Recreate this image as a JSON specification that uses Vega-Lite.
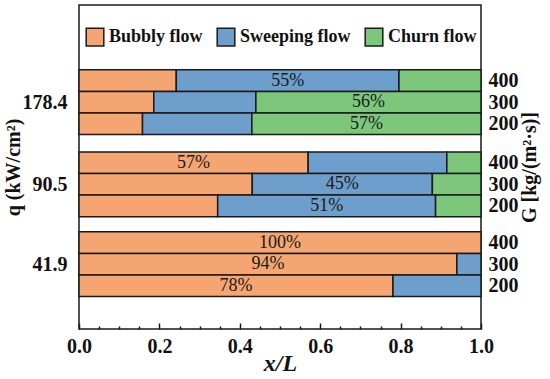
{
  "$schema": "https://vega.github.io/schema/vega-lite/v6.json",
  "width": 402,
  "height": 324,
  "autosize": {"type": "none"},
  "padding": {"top": 5, "left": 79, "right": 69, "bottom": 50},
  "background": "white",
  "config": {
    "view": {"stroke": "#1a1a1a", "strokeWidth": 1.5},
    "font": "Liberation Serif",
    "axis": {"domain": false, "grid": false, "labelFont": "Liberation Serif", "titleFont": "Liberation Serif", "labelColor": "#111", "titleColor": "#111", "tickColor": "#1a1a1a", "tickWidth": 1.5}
  },
  "data": {"values": [
    {"q": "178.4", "G": "400", "yc": 11.5, "regime": "Bubbly flow", "start": 0, "end": 0.242, "label": ""},
    {"q": "178.4", "G": "400", "yc": 11.5, "regime": "Sweeping flow", "start": 0.242, "end": 0.796, "label": "55%"},
    {"q": "178.4", "G": "400", "yc": 11.5, "regime": "Churn flow", "start": 0.796, "end": 1, "label": ""},
    {"q": "178.4", "G": "300", "yc": 10.5, "regime": "Bubbly flow", "start": 0, "end": 0.186, "label": ""},
    {"q": "178.4", "G": "300", "yc": 10.5, "regime": "Sweeping flow", "start": 0.186, "end": 0.44, "label": ""},
    {"q": "178.4", "G": "300", "yc": 10.5, "regime": "Churn flow", "start": 0.44, "end": 1, "label": "56%"},
    {"q": "178.4", "G": "200", "yc": 9.5, "regime": "Bubbly flow", "start": 0, "end": 0.158, "label": ""},
    {"q": "178.4", "G": "200", "yc": 9.5, "regime": "Sweeping flow", "start": 0.158, "end": 0.43, "label": ""},
    {"q": "178.4", "G": "200", "yc": 9.5, "regime": "Churn flow", "start": 0.43, "end": 1, "label": "57%"},
    {"q": "90.5", "G": "400", "yc": 7.7, "regime": "Bubbly flow", "start": 0, "end": 0.57, "label": "57%"},
    {"q": "90.5", "G": "400", "yc": 7.7, "regime": "Sweeping flow", "start": 0.57, "end": 0.915, "label": ""},
    {"q": "90.5", "G": "400", "yc": 7.7, "regime": "Churn flow", "start": 0.915, "end": 1, "label": ""},
    {"q": "90.5", "G": "300", "yc": 6.7, "regime": "Bubbly flow", "start": 0, "end": 0.431, "label": ""},
    {"q": "90.5", "G": "300", "yc": 6.7, "regime": "Sweeping flow", "start": 0.431, "end": 0.879, "label": "45%"},
    {"q": "90.5", "G": "300", "yc": 6.7, "regime": "Churn flow", "start": 0.879, "end": 1, "label": ""},
    {"q": "90.5", "G": "200", "yc": 5.7, "regime": "Bubbly flow", "start": 0, "end": 0.345, "label": ""},
    {"q": "90.5", "G": "200", "yc": 5.7, "regime": "Sweeping flow", "start": 0.345, "end": 0.887, "label": "51%"},
    {"q": "90.5", "G": "200", "yc": 5.7, "regime": "Churn flow", "start": 0.887, "end": 1, "label": ""},
    {"q": "41.9", "G": "400", "yc": 4, "regime": "Bubbly flow", "start": 0, "end": 1, "label": "100%"},
    {"q": "41.9", "G": "300", "yc": 3, "regime": "Bubbly flow", "start": 0, "end": 0.94, "label": "94%"},
    {"q": "41.9", "G": "300", "yc": 3, "regime": "Sweeping flow", "start": 0.94, "end": 1, "label": ""},
    {"q": "41.9", "G": "200", "yc": 2, "regime": "Bubbly flow", "start": 0, "end": 0.781, "label": "78%"},
    {"q": "41.9", "G": "200", "yc": 2, "regime": "Sweeping flow", "start": 0.781, "end": 1, "label": ""}
  ]},
  "transform": [
    {"calculate": "datum.yc - 0.5", "as": "ylo"},
    {"calculate": "datum.yc + 0.5", "as": "yhi"},
    {"calculate": "(datum.start + datum.end) / 2", "as": "mid"}
  ],
  "resolve": {"axis": {"x": "independent", "y": "independent"}},
  "layer": [
    {
      "mark": {"type": "bar", "stroke": "#1a1a1a", "strokeWidth": 1.5, "opacity": 1},
      "encoding": {
        "x": {"field": "start", "type": "quantitative", "scale": {"domain": [0, 1], "nice": false, "zero": false},
          "axis": {"orient": "bottom", "values": [0, 0.2, 0.4, 0.6, 0.8, 1], "format": ".1f", "tickSize": -6, "labelPadding": 13, "labelFontSize": 20, "labelFontWeight": "bold", "labelFlush": false, "title": "x/L", "titleFontSize": 24, "titleFontWeight": "bold", "titleFontStyle": "italic", "titleY": 22, "titleBaseline": "top"}},
        "x2": {"field": "end"},
        "y": {"field": "ylo", "type": "quantitative", "scale": {"domain": [0, 15], "nice": false, "zero": false},
          "axis": {"orient": "left", "values": [10.5, 6.7, 3], "labelExpr": "datum.value == 10.5 ? '178.4' : datum.value == 6.7 ? '90.5' : '41.9'", "ticks": false, "labelPadding": 12, "labelFontSize": 20, "labelFontWeight": "bold", "title": "q (kW/cm²)", "titleFontSize": 20, "titleFontWeight": "bold", "titleX": -56, "titleBaseline": "bottom"}},
        "y2": {"field": "yhi"},
        "color": {"field": "regime", "type": "nominal",
          "scale": {"domain": ["Bubbly flow", "Sweeping flow", "Churn flow"], "range": ["#F5A571", "#6D9ECC", "#7CC77C"]},
          "legend": {"orient": "none", "legendX": 6, "legendY": 22, "direction": "horizontal", "title": null, "symbolType": "square", "symbolSize": 310, "symbolStrokeColor": "#1a1a1a", "symbolStrokeWidth": 1.5, "symbolOpacity": 1, "labelFont": "Liberation Serif", "labelFontSize": 18, "labelFontWeight": "bold", "labelColor": "#111", "labelOffset": 4, "columnPadding": 11, "labelLimit": 300}}
      }
    },
    {
      "transform": [{"filter": "datum.label != ''"}],
      "mark": {"type": "text", "font": "Liberation Serif", "fontSize": 18, "color": "#1a1a1a", "baseline": "middle", "align": "center"},
      "encoding": {
        "x": {"field": "mid", "type": "quantitative",
          "axis": {"orient": "bottom", "values": [0.05, 0.1, 0.15, 0.25, 0.3, 0.35, 0.45, 0.5, 0.55, 0.65, 0.7, 0.75, 0.85, 0.9, 0.95], "tickSize": -3, "labels": false, "title": null}},
        "y": {"field": "yc", "type": "quantitative",
          "axis": {"orient": "right", "values": [11.5, 10.5, 9.5, 7.7, 6.7, 5.7, 4, 3, 2], "labelExpr": "(datum.value == 11.5 || datum.value == 7.7 || datum.value == 4) ? '400' : (datum.value == 10.5 || datum.value == 6.7 || datum.value == 3) ? '300' : '200'", "ticks": false, "labelPadding": 7, "labelFontSize": 20, "labelFontWeight": "bold", "title": "G [kg/(m²·s)]", "titleFontSize": 20, "titleFontWeight": "bold", "titleAngle": -90, "titleX": 38, "titleBaseline": "top"}},
        "text": {"field": "label"}
      }
    }
  ]
}
